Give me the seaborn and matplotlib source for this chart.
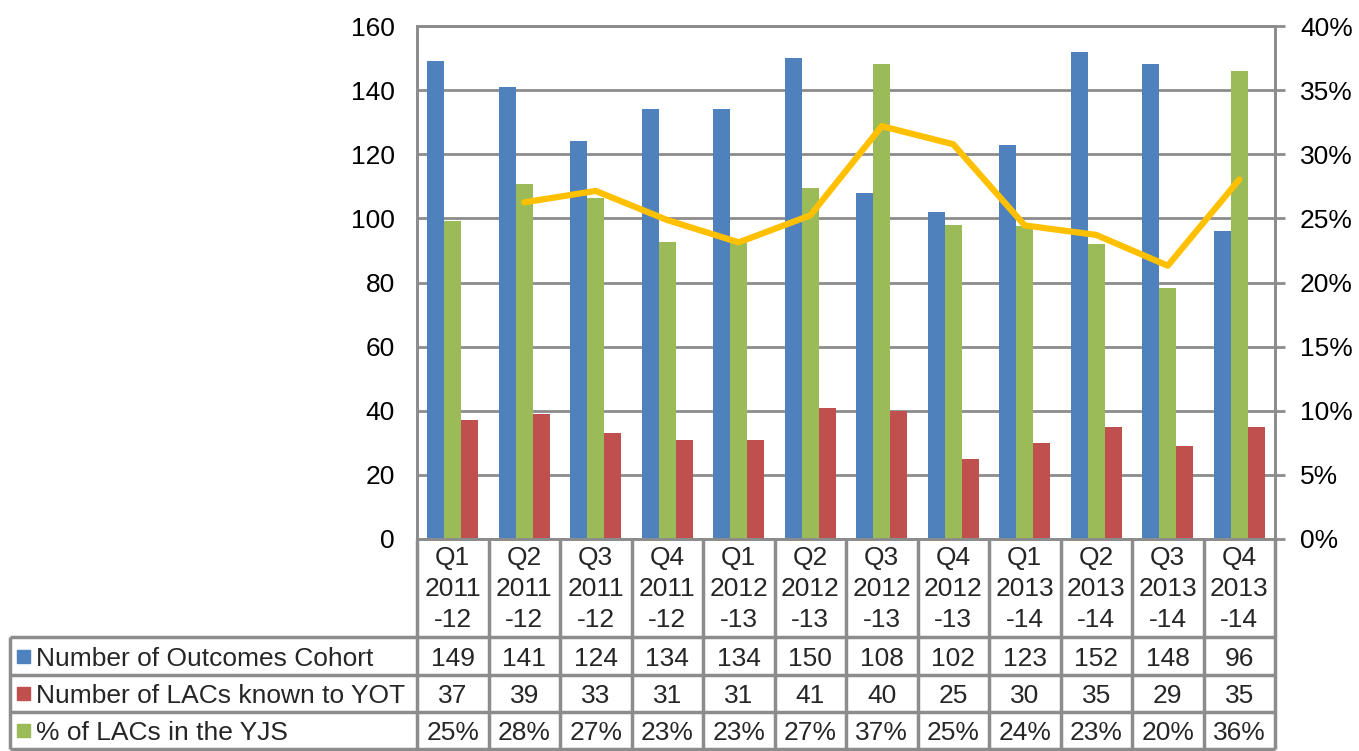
import numpy as np
import pandas as pd
import matplotlib
matplotlib.use("Agg")
import matplotlib.pyplot as plt
from matplotlib.patches import Rectangle
from matplotlib.ticker import FuncFormatter, MultipleLocator
import seaborn as sns

# ---- data ----
periods = ["Q1\n2011\n-12", "Q2\n2011\n-12", "Q3\n2011\n-12", "Q4\n2011\n-12",
           "Q1\n2012\n-13", "Q2\n2012\n-13", "Q3\n2012\n-13", "Q4\n2012\n-13",
           "Q1\n2013\n-14", "Q2\n2013\n-14", "Q3\n2013\n-14", "Q4\n2013\n-14"]
outcomes_cohort = [149, 141, 124, 134, 134, 150, 108, 102, 123, 152, 148, 96]
lacs_known_yot = [37, 39, 33, 31, 31, 41, 40, 25, 30, 35, 29, 35]
pct_lacs_yjs = [24.83, 27.66, 26.61, 23.13, 23.13, 27.33, 37.04, 24.51, 24.39, 23.03, 19.59, 36.46]
# 2-period moving average trendline (yellow), first quarter has no point
trend_line = [np.nan, 26.25, 27.14, 24.87, 23.13, 25.23, 32.19, 30.78, 24.45, 23.71, 21.31, 28.03]

COHORT = "Number of Outcomes Cohort"
LACS = "Number of LACs known to YOT"
PCT = "% of LACs in the YJS"
colors = {COHORT: "#4F81BD", LACS: "#C0504D", PCT: "#9BBB59"}
bar_order = [COHORT, PCT, LACS]   # left to right inside each quarter
row_order = [COHORT, LACS, PCT]   # data table rows

GRID = "#8C8C8C"
FS = 19

sns.set_style("white")
plt.rcParams["font.family"] = ["Liberation Sans", "DejaVu Sans"]

counts = pd.DataFrame({
    "period": periods * 2,
    "series": [COHORT] * 12 + [LACS] * 12,
    "value": outcomes_cohort + lacs_known_yot,
})
pct = pd.DataFrame({"period": periods, "series": PCT, "value": pct_lacs_yjs})

W, H = 1359, 751
fig = plt.figure(figsize=(W / 100, H / 100), dpi=100)
ax_l, ax_r, ax_t, ax_b = 417, 1275, 26, 539
ax = fig.add_axes([ax_l / W, 1 - ax_b / H, (ax_r - ax_l) / W, (ax_b - ax_t) / H])

bar_kw = dict(x="period", y="value", hue="series", order=periods,
              hue_order=bar_order, palette=colors, width=0.72, gap=0,
              dodge=True, saturation=1, errorbar=None, legend=False,
              linewidth=0, zorder=2)
sns.barplot(data=counts, ax=ax, **bar_kw)

ax2 = ax.twinx()
sns.barplot(data=pct, ax=ax2, **bar_kw)
sns.lineplot(x=np.arange(len(periods)), y=trend_line, color="#FFC000",
             linewidth=4.5, solid_capstyle="round", ax=ax2, zorder=3)

ax.set_xlim(-0.5, len(periods) - 0.5)
ax.set_ylim(0, 160)
ax.yaxis.set_major_locator(MultipleLocator(20))
ax2.set_ylim(0, 40)
ax2.yaxis.set_major_locator(MultipleLocator(5))
ax2.yaxis.set_major_formatter(FuncFormatter(lambda v, _: f"{v:.0f}%"))

for a in (ax, ax2):
    a.set_xlabel("")
    a.set_ylabel("")
    for sp in a.spines.values():
        sp.set_color(GRID)
        sp.set_linewidth(2)

ax.set_axisbelow(True)
ax.yaxis.grid(True, color=GRID, linewidth=2)
ax.xaxis.grid(False)
ax2.grid(False)

ax.tick_params(axis="y", length=0, pad=16, labelsize=FS, labelcolor="black")
ax2.tick_params(axis="y", length=7, width=2, color=GRID, pad=11,
                labelsize=FS, labelcolor="black")
ax.set_xticks(range(len(periods)))
ax.set_xticklabels(periods, fontsize=FS, linespacing=1.37)
ax.tick_params(axis="x", length=0, pad=5)

# ---- data table under the plot ----
def yfrac(py):
    return (ax_b - py) / (ax_b - ax_t)

def xfrac(px):
    return (px - ax_l) / (ax_r - ax_l)

row_lines = [637, 675, 712, 749]
xt = ax.get_xaxis_transform()
ax.vlines(np.arange(len(periods) + 1) - 0.5, yfrac(row_lines[-1]), 0,
          transform=xt, colors=GRID, linewidth=2.5, clip_on=False)
ax.hlines([yfrac(p) for p in row_lines], xfrac(10), 1, transform=ax.transAxes,
          colors=GRID, linewidth=2.5, clip_on=False)
ax.vlines(xfrac(10), yfrac(row_lines[-1]), yfrac(row_lines[0]),
          transform=ax.transAxes, colors=GRID, linewidth=2.5, clip_on=False)

table_values = {
    COHORT: [str(v) for v in outcomes_cohort],
    LACS: [str(v) for v in lacs_known_yot],
    PCT: [f"{v:.0f}%" for v in pct_lacs_yjs],
}
for i, name in enumerate(row_order):
    yc = yfrac((row_lines[i] + row_lines[i + 1]) / 2)
    sq = 13 / (ax_b - ax_t)
    ax.add_patch(Rectangle((xfrac(17), yc - sq / 2), 13 / (ax_r - ax_l), sq,
                           transform=ax.transAxes, color=colors[name],
                           clip_on=False))
    ax.text(xfrac(36), yc, name, transform=ax.transAxes, fontsize=FS,
            ha="left", va="center_baseline")
    for j, txt in enumerate(table_values[name]):
        ax.text(j, yc, txt, transform=xt, fontsize=FS, ha="center",
                va="center_baseline")

fig.savefig("out.png", dpi=100)
